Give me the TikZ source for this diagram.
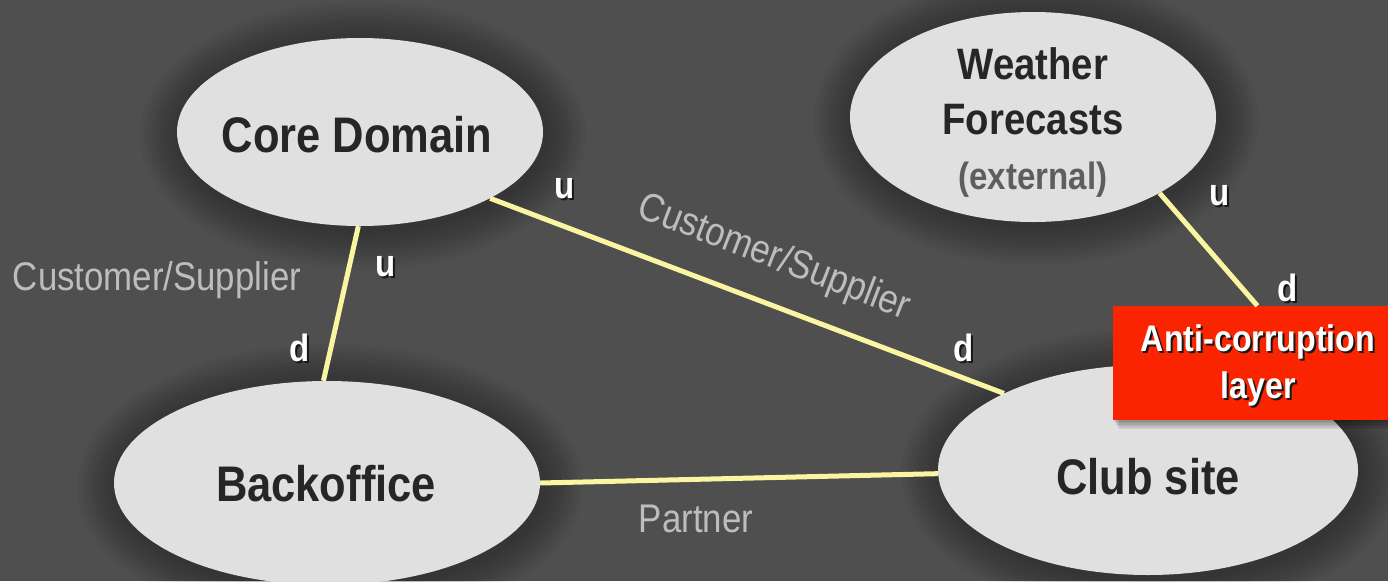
\documentclass[tikz,border=0pt]{standalone}
\usepackage{fontspec}
\setmainfont{Liberation Sans}[FakeStretch=0.87]
\usetikzlibrary{shapes.geometric,calc}
\definecolor{bg}{HTML}{4F4F4F}
\definecolor{bubble}{HTML}{E0E0E0}
\definecolor{ink}{HTML}{262626}
\definecolor{link}{HTML}{FAF5A0}
\definecolor{note}{HTML}{BDBDBD}
\definecolor{aclred}{HTML}{FA2400}
\definecolor{ext}{HTML}{5E5E5E}

% soft dark glow around a context bubble
\newcommand\halo[4]{%
  \foreach \k in {1,...,10}{%
    \fill[black,opacity=0.03] (#1+3,#2+3) ellipse [x radius={#3pt+4pt*\k}, y radius={#4pt+4pt*\k}];
  }%
}
% white marker letter with a small dark drop shadow
\newcommand\shadowed[1]{\makebox[0pt][l]{\hspace{2pt}\raisebox{-2pt}{\color{black!70!bg}#1}}#1}

\begin{document}
\begin{tikzpicture}[x=1pt,y=-1pt,
  ctx/.style={ellipse, fill=bubble, inner sep=0pt, draw=none},
  ctxtext/.style={text=ink, font=\bfseries\fontsize{50}{56}\selectfont, inner sep=0pt, align=center},
  conn/.style={draw=link, line width=5pt},
  relname/.style={text=note, font=\fontsize{40}{46}\selectfont, inner sep=0pt},
  ud/.style={text=white, font=\bfseries\fontsize{38}{42}\selectfont, inner sep=0pt},
  acltext/.style={text=white, font=\bfseries\fontsize{37}{47}\selectfont, inner sep=0pt, align=center}]

% canvas
\fill[bg] (0,0) rectangle (1388,581);
\useasboundingbox (0,0) rectangle (1388,581);

% glows behind the bubbles
\halo{360}{132}{183}{94}
\halo{1033}{117}{183}{105}
\halo{327}{483}{213}{102}
\halo{1148}{470}{210}{105}

% bounded contexts
\node[ctx, minimum width=366pt, minimum height=188pt] (core) at (360,132) {};
\node[ctx, minimum width=366pt, minimum height=210pt] (wf) at (1033,117) {};
\node[ctx, minimum width=426pt, minimum height=204pt] (back) at (327,483) {};
\node[ctx, minimum width=420pt, minimum height=210pt] (club) at (1148,470) {};

\node[ctxtext] (coret) at (357,135) {Core Domain};
\node[ctxtext] (backt) at (326,484) {Backoffice};
\node[ctxtext] (clubt) at (1148,477) {Club site};
\node[ctxtext, font=\bfseries\fontsize{44}{55}\selectfont] (wft) at (1033,122)
  {Weather\\Forecasts\\{\fontsize{38}{55}\selectfont\color{ext}(external)}};

% anti-corruption layer with drop shadow
\foreach \k in {1,...,6}{
  \fill[black,opacity=0.07] (1113+\k,306+1.5*\k) rectangle (1388+\k,420+1.5*\k);
}
\node[fill=aclred, minimum width=275pt, minimum height=114pt, inner sep=0pt] (acl) at (1250.5,363) {};
\node[acltext] (aclt) at (1258,366) {\shadowed{Anti-corruption}\\\shadowed{layer}};

% relationships
\draw[conn] (core.-91) -- (back.92);
\draw[conn] (core.-27) -- (club.152);
\draw[conn] (back.0) -- (club.-179);
\draw[conn] (wf.-31) -- ($(acl.north west)!0.525!(acl.north east)$);

% relationship names
\node[relname] (cs1) at (157,280) {Customer/Supplier};
\node[relname, rotate=-21] (cs2) at (774,258) {Customer/Supplier};
\node[relname] (prt) at (696,519) {Partner};

% upstream / downstream markers
\foreach \n/\t/\x/\y in {u1/u/565/190, d1/d/964/349, u2/u/386/268, d2/d/300/349, u3/u/1220/197, d3/d/1288/289}{
  \node[ud] (\n) at (\x,\y) {\shadowed{\t}};
}
\end{tikzpicture}
\end{document}
